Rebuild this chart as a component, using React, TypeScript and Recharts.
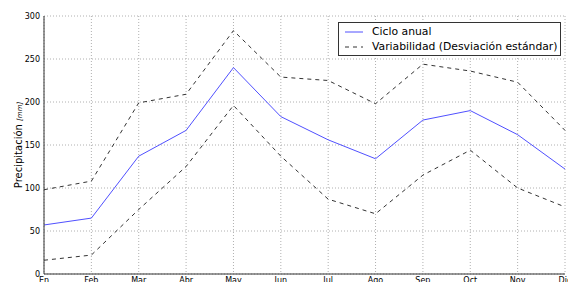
import { LineChart, Line, XAxis, YAxis, CartesianGrid } from "recharts";

const months = ["En", "Feb", "Mar", "Abr", "May", "Jun", "Jul", "Ago", "Sep", "Oct", "Nov", "Dic"];
const cicloAnual = [57, 65, 137, 167, 240, 183, 156, 134, 179, 190, 162, 122];
const upperDev = [98, 108, 199, 209, 283, 229, 225, 198, 244, 236, 223, 167];
const lowerDev = [16, 22, 75, 125, 196, 137, 87, 70, 115, 144, 100, 78];
const yTicks = [0, 50, 100, 150, 200, 250, 300];

const data = months.map((m, i) => ({
  month: m,
  ciclo: cicloAnual[i],
  upper: upperDev[i],
  lower: lowerDev[i],
}));

const font = "'DejaVu Sans', sans-serif";
const blue = "#5050ff";
const dark = "#333";

function LegendBox() {
  const row = (dash: string | undefined, color: string, text: string) => (
    <div style={{ display: "flex", alignItems: "center", height: 15 }}>
      <svg width={19} height={10} style={{ marginRight: 8, flexShrink: 0 }}>
        <line x1={0} y1={5} x2={18} y2={5} stroke={color} strokeWidth={1} strokeDasharray={dash} />
      </svg>
      <span style={{ whiteSpace: "nowrap" }}>{text}</span>
    </div>
  );
  return (
    <div
      style={{
        position: "absolute",
        left: 338,
        top: 22,
        boxSizing: "border-box",
        width: 223,
        border: "1px solid #333",
        background: "#fff",
        padding: "1px 2px 1px 6px",
        fontFamily: font,
        fontSize: 10.8,
        color: "#000",
      }}
    >
      {row(undefined, blue, "Ciclo anual")}
      {row("4 4", dark, "Variabilidad (Desviación estándar)")}
    </div>
  );
}

function YLabel(props: any) {
  const { viewBox } = props;
  const cx = 18;
  const cy = viewBox.y + viewBox.height / 2;
  return (
    <text
      x={cx}
      y={cy}
      transform={`rotate(-90, ${cx}, ${cy})`}
      textAnchor="middle"
      dy="0.35em"
      fontFamily={font}
      fontSize={10}
      fill="#000"
    >
      Precipitación{" "}
      <tspan fontSize={7} fontStyle="italic">
        [mm]
      </tspan>
    </text>
  );
}

export default function App() {
  return (
    <div style={{ position: "absolute", left: 0, top: 0, background: "#fff", width: 568, height: 300 }}>
      <LineChart width={568} height={300} data={data} margin={{ top: 16, right: 3, left: 0, bottom: 0 }}>
        <CartesianGrid stroke="#b0b0b0" strokeDasharray="1 2" />
        <XAxis
          dataKey="month"
          interval={0}
          height={26}
          tickLine={false}
          tickSize={0}
          tickMargin={3}
          axisLine={{ stroke: dark }}
          tick={{ fontSize: 8, fill: "#000", fontFamily: font }}
        />
        <XAxis xAxisId="top" dataKey="month" orientation="top" height={0} tick={false} tickLine={false} axisLine={{ stroke: dark }} />
        <YAxis
          domain={[0, 300]}
          ticks={yTicks}
          width={44}
          tickLine={false}
          tickSize={0}
          tickMargin={4}
          axisLine={{ stroke: dark }}
          tick={{ fontSize: 8, fill: "#000", fontFamily: font }}
          label={<YLabel />}
        />
        <YAxis yAxisId="right" orientation="right" domain={[0, 300]} width={0} tick={false} tickLine={false} axisLine={{ stroke: dark }} />
        <Line type="linear" dataKey="ciclo" stroke={blue} strokeWidth={1} dot={false} isAnimationActive={false} />
        <Line type="linear" dataKey="upper" stroke={dark} strokeWidth={1} strokeDasharray="4 4" dot={false} isAnimationActive={false} />
        <Line type="linear" dataKey="lower" stroke={dark} strokeWidth={1} strokeDasharray="4 4" dot={false} isAnimationActive={false} />
      </LineChart>
      <LegendBox />
    </div>
  );
}
